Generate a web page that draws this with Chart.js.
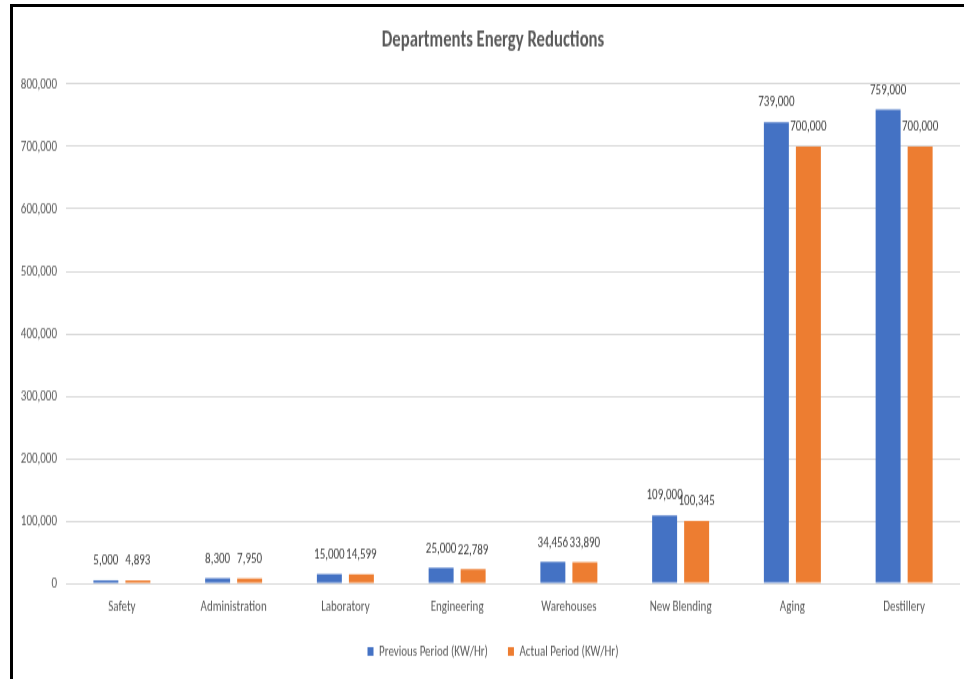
<!DOCTYPE html>
<html>
<head>
<meta charset="utf-8">
<script src="https://cdn.jsdelivr.net/npm/chart.js@4.4.1/dist/chart.umd.min.js"></script>
<style>
  html, body { margin: 0; padding: 0; background: #ffffff; }
  #page { position: relative; width: 964px; height: 679px; overflow: hidden; }
  /* the chart is laid out on a shorter canvas and stretched vertically */
  #stretch { position: absolute; left: 0; top: 0; width: 964px; height: 468px;
             transform: scaleY(1.4509); transform-origin: 0 0; }
  #frame { position: absolute; left: 10px; top: 4px; width: 960px; height: 680px;
           border-left: 3px solid #000; border-top: 3px solid #000; pointer-events: none; }
</style>
</head>
<body>
<div id="page">
  <div id="stretch"><canvas id="chart" width="964" height="468"></canvas></div>
  <div id="frame"></div>
</div>
<script>
const categories = ["Safety", "Administration", "Laboratory", "Engineering", "Warehouses", "New Blending", "Aging", "Destillery"];
const previousPeriod = [5000, 8300, 15000, 25000, 34456, 109000, 739000, 759000];
const actualPeriod = [4893, 7950, 14599, 22789, 33890, 100345, 700000, 700000];
const seriesNames = ["Previous Period (KW/Hr)", "Actual Period (KW/Hr)"];
const yTicksMax = 800000;
const yTicksStep = 100000;

const FONT = "Carlito, Calibri, 'Liberation Sans', sans-serif";
const fmt = v => v.toLocaleString("en-US");

// width of the widest y tick label, used to right-align the mirrored ticks
const probe = document.createElement("canvas").getContext("2d");
probe.font = "11px " + FONT;
const widestY = probe.measureText(fmt(yTicksMax)).width;

// value labels drawn above each bar
const barValueLabels = {
  id: "barValueLabels",
  afterDatasetsDraw(chart) {
    const ctx = chart.ctx;
    ctx.save();
    ctx.font = "11px " + FONT;
    ctx.fillStyle = "#404040";
    ctx.textAlign = "center";
    ctx.textBaseline = "middle";
    chart.data.datasets.forEach((ds, i) => {
      chart.getDatasetMeta(i).data.forEach((bar, j) => {
        ctx.fillText(fmt(ds.data[j]), bar.x, bar.y - 13.5);
      });
    });
    ctx.restore();
  }
};

new Chart(document.getElementById("chart"), {
  type: "bar",
  data: {
    labels: categories,
    datasets: [
      { label: seriesNames[0], data: previousPeriod, backgroundColor: "#4472C4" },
      { label: seriesNames[1], data: actualPeriod, backgroundColor: "#ED7D31" }
    ]
  },
  options: {
    responsive: false,
    animation: false,
    categoryPercentage: 0.573,
    barPercentage: 0.78,
    layout: { padding: { left: 26, right: 4, top: 0, bottom: 3.5 } },
    plugins: {
      title: {
        display: true,
        text: "Departments Energy Reductions",
        color: "#595959",
        font: { family: FONT, size: 16.7, weight: "bold", lineHeight: 1.2 },
        padding: { top: 17.6, bottom: 20.3 }
      },
      legend: {
        position: "bottom",
        labels: {
          color: "#595959",
          font: { family: FONT, size: 11 },
          boxWidth: 6,
          boxHeight: 6,
          padding: 20
        }
      },
      tooltip: { enabled: false }
    },
    scales: {
      x: {
        grid: { display: false, drawTicks: false },
        border: { display: false },
        ticks: { color: "#595959", font: { family: FONT, size: 11 }, padding: 10 },
        afterFit(s) { s.height = 21.4; }
      },
      y: {
        min: 0,
        max: yTicksMax,
        grid: { color: "#d9d9d9", lineWidth: 1, drawTicks: false },
        border: { display: false },
        ticks: {
          stepSize: yTicksStep,
          color: "#595959",
          font: { family: FONT, size: 11 },
          mirror: true,
          crossAlign: "far",
          padding: -(widestY + 9),
          callback: v => fmt(v)
        },
        afterFit(s) { s.width = 40; }
      }
    }
  },
  plugins: [barValueLabels]
});
</script>
</body>
</html>
